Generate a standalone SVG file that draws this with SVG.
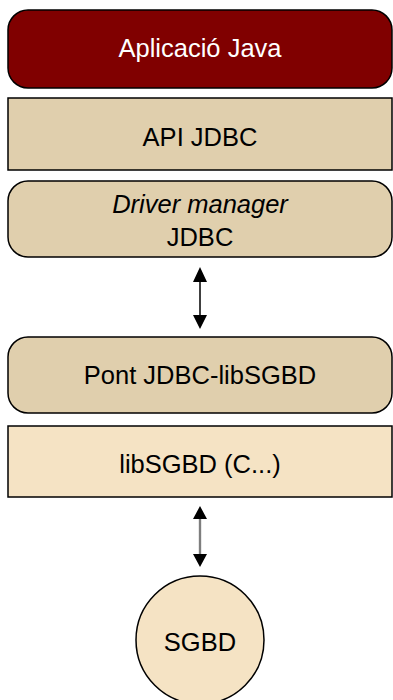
<svg xmlns="http://www.w3.org/2000/svg" width="393" height="700" viewBox="0 0 393 700">
<defs>
<style>
.box{stroke:#000;stroke-width:1.5}
.t{font-family:"Liberation Sans",Arial,sans-serif;font-size:25.5px;text-anchor:middle;fill:#000}
.arrow{stroke:#000;stroke-width:1.5;fill:none}
.head{fill:#000}
</style>
<linearGradient id="shaft" x1="0" y1="0" x2="1" y2="0">
<stop offset="0" stop-color="#d0d0d0"/>
<stop offset="0.5" stop-color="#555"/>
<stop offset="1" stop-color="#d0d0d0"/>
</linearGradient>
</defs>
<rect width="393" height="700" fill="#fff"/>
<g id="app">
<rect class="box" x="8" y="10" width="384" height="78" rx="20" fill="#800000"/>
<text class="t" x="200" y="57" style="fill:#fff">Aplicació Java</text>
</g>
<g id="api">
<rect class="box" x="8" y="98" width="384" height="72" fill="#e0cfad"/>
<text class="t" x="200" y="146">API JDBC</text>
</g>
<g id="driver">
<rect class="box" x="8" y="181" width="384" height="76" rx="20" fill="#e0cfad"/>
<text class="t" x="200" y="213" font-style="italic">Driver manager</text>
<text class="t" x="200" y="246">JDBC</text>
</g>
<g id="pont">
<rect class="box" x="8" y="337" width="384" height="76" rx="20" fill="#e0cfad"/>
<text class="t" x="200" y="384">Pont JDBC-libSGBD</text>
</g>
<g id="lib">
<rect class="box" x="8" y="426" width="384" height="71" fill="#f5e3c4"/>
<text class="t" x="200" y="473">libSGBD (C...)</text>
</g>
<g id="sgbd">
<circle class="box" cx="200" cy="640" r="64" fill="#f5e3c4"/>
<text class="t" x="200" y="651">SGBD</text>
</g>
<g id="connectors">
<line class="arrow" x1="200" y1="280" x2="200" y2="317"/>
<path class="head" d="M193,282 L200,267 L207,282 Z M193,315 L200,329 L207,315 Z"/>
<rect x="198.5" y="518" width="3" height="38" fill="url(#shaft)"/>
<path class="head" d="M193,519 L200,506 L207,519 Z M193,554 L200,567 L207,554 Z"/>
</g>
</svg>
